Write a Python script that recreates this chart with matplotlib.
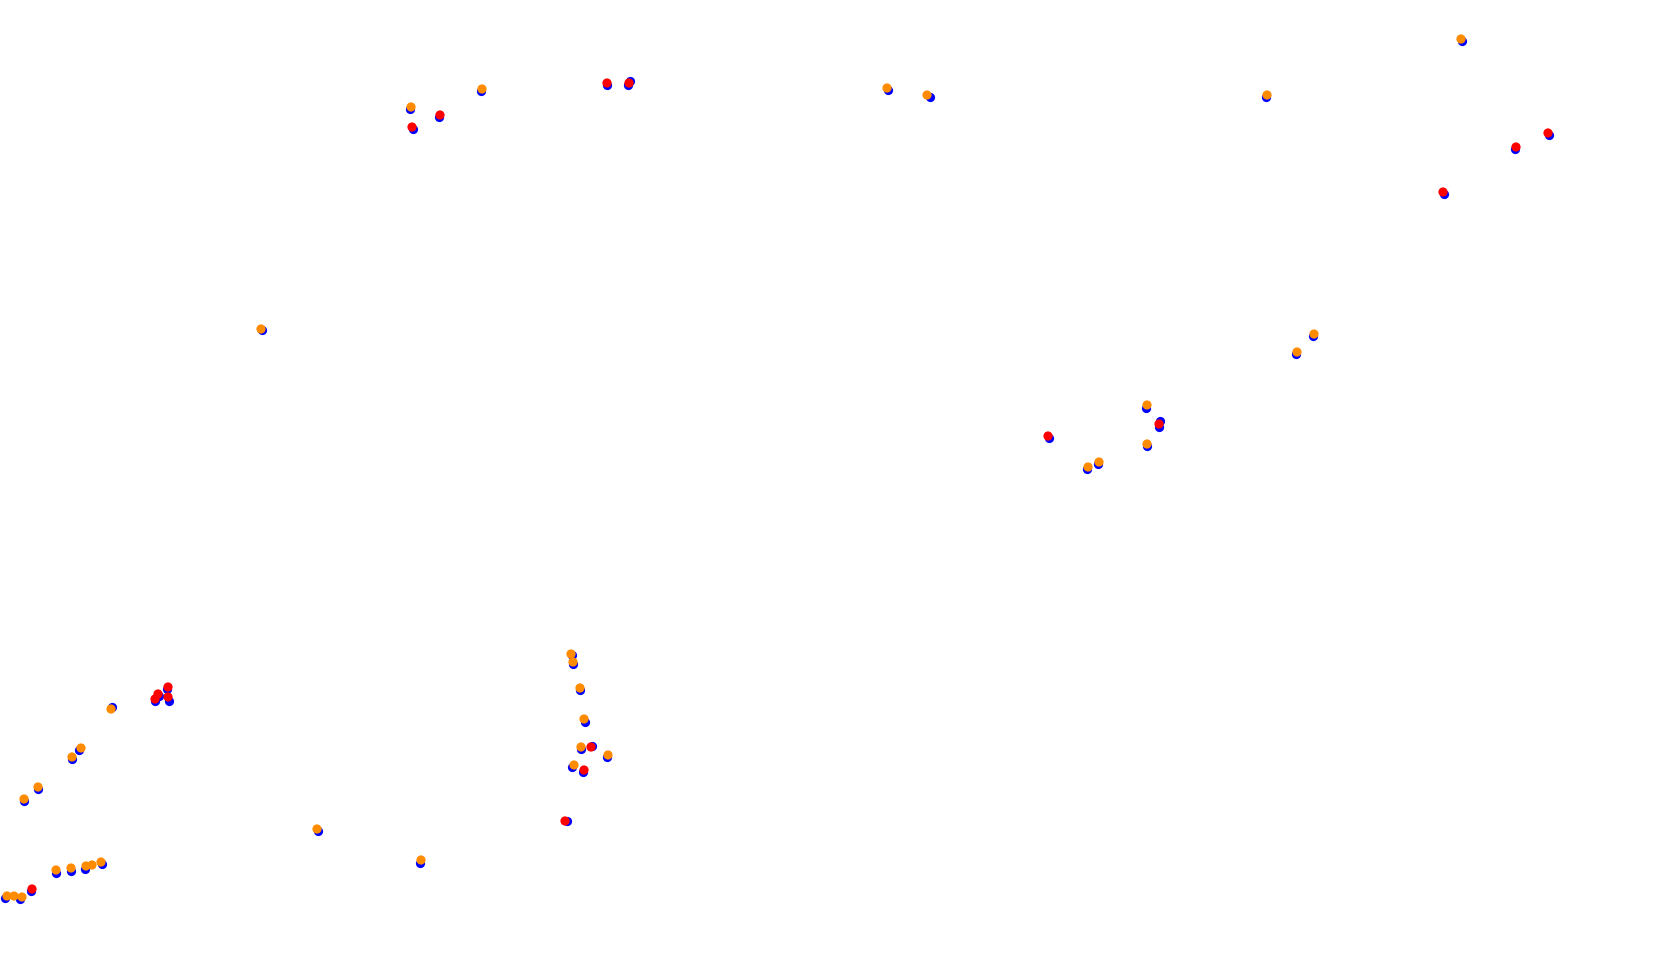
import matplotlib
matplotlib.use("Agg")
import matplotlib.pyplot as plt

# Blue (base) points
blue_x = [112, 167, 159, 155, 169, 79, 72, 38, 24, 56, 71, 85, 102, 31, 5, 20,
          572, 573, 580, 585, 581, 592, 607, 572, 583, 567,
          410, 413, 439, 481, 607, 630, 628,
          888, 930, 1266, 1462, 1549, 1515, 1444,
          1313, 1296, 1146, 1160, 1159, 1049, 1147, 1098, 1087,
          262, 318, 420]
blue_y = [707, 689, 696, 701, 701, 750, 759, 789, 801, 873, 871, 869, 864, 891, 898, 899,
          655, 664, 690, 722, 749, 746, 757, 767, 772, 821,
          109, 129, 117, 91, 85, 81, 85,
          90, 97, 97, 41, 135, 149, 194,
          336, 354, 408, 421, 427, 438, 446, 464, 469,
          330, 831, 863]

# Overlaid (coloured) points
top_x = [111, 168, 158, 155, 168, 81, 72, 38, 24, 56, 71, 86, 92, 101, 32, 7, 14, 22,
         571, 573, 580, 584, 581, 591, 608, 574, 584, 565,
         411, 412, 440, 482, 607, 629,
         887, 927, 1267, 1461, 1548, 1516, 1443,
         1314, 1297, 1147, 1159, 1048, 1147, 1099, 1088,
         261, 317, 421]
top_y = [709, 687, 694, 699, 697, 748, 757, 787, 799, 870, 868, 866, 865, 862, 889, 896, 896, 897,
         654, 662, 688, 719, 747, 747, 755, 765, 770, 821,
         107, 127, 115, 89, 83, 83,
         88, 95, 95, 39, 133, 147, 192,
         334, 352, 405, 424, 436, 444, 462, 467,
         329, 829, 860]
top_kind = ["o", "r", "r", "r", "r", "o", "o", "o", "o", "o", "o", "o", "o", "o", "r", "o", "o", "o",
            "o", "o", "o", "o", "o", "r", "o", "o", "r", "r",
            "o", "r", "r", "o", "r", "r",
            "o", "o", "o", "o", "r", "r", "r",
            "o", "o", "o", "r", "r", "o", "o", "o",
            "o", "o", "o"]

palette = {"o": "#ff8c00", "r": "#ff0000"}
top_colors = [palette[k] for k in top_kind]

fig = plt.figure(figsize=(16.8, 9.69), dpi=100)
ax = fig.add_axes([0, 0, 1, 1])
ax.scatter(blue_x, blue_y, s=44, c="#0000ff", linewidths=0)
ax.scatter(top_x, top_y, s=44, c=top_colors, linewidths=0)
ax.set_xlim(0, 1680)
ax.set_ylim(969, 0)
ax.axis("off")
fig.savefig("out.png", dpi=100, facecolor="white")
